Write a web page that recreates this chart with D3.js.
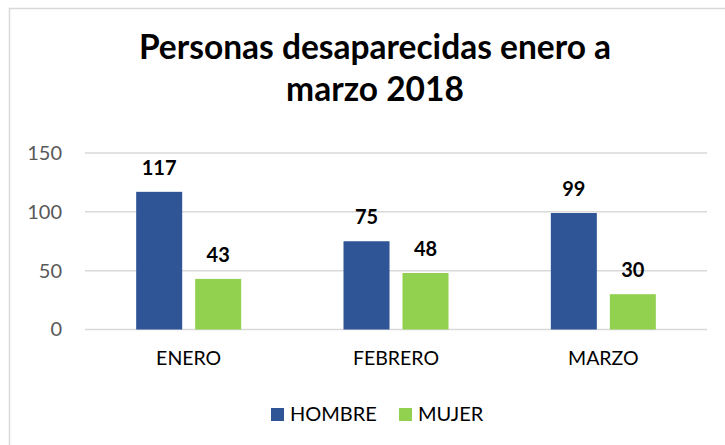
<!DOCTYPE html>
<html>
<head>
<meta charset="utf-8">
<script src="https://cdn.jsdelivr.net/npm/d3@7"></script>
<style>
  body { margin: 0; background: #fff; }
  svg { display: block; font-family: Lato, "Open Sans", sans-serif; }
</style>
</head>
<body>
<svg id="chart"></svg>
<script>
var categories = ["ENERO", "FEBRERO", "MARZO"];
var series = ["HOMBRE", "MUJER"];
var hombre = [117, 75, 99];
var mujer = [43, 48, 30];
var yTicks = [0, 50, 100, 150];
var colors = ["#2F5597", "#92D050"];

var W = 725, H = 445;
var svg = d3.select("#chart").attr("width", W).attr("height", H);

// chart border
svg.append("rect")
    .attr("x", 9.5).attr("y", 8.5)
    .attr("width", 730).attr("height", 450)
    .attr("fill", "none").attr("stroke", "#d9d9d9").attr("stroke-width", 1.5);

// title
var title = svg.append("text")
    .attr("text-anchor", "middle")
    .attr("font-weight", "bold")
    .attr("font-size", 33.5)
    .attr("fill", "#000");
title.append("tspan").attr("x", 375).attr("y", 59).text("Personas desaparecidas enero a");
title.append("tspan").attr("x", 375).attr("y", 101).text("marzo 2018");

var plotLeft = 85, plotRight = 707, plotTop = 153, plotBottom = 329.5;

var x0 = d3.scaleBand().domain(categories).range([plotLeft, plotRight]);
var x1 = d3.scaleBand().domain(series).range([0, 105]).paddingInner(0.22);
var y = d3.scaleLinear().domain([0, 150]).range([plotBottom, plotTop]);

var data = categories.map(function(c, i) {
    return { cat: c, values: [hombre[i], mujer[i]] };
});

// gridlines
svg.append("g").selectAll("line")
    .data(yTicks).enter().append("line")
    .attr("x1", plotLeft).attr("x2", plotRight)
    .attr("y1", function(d) { return y(d); })
    .attr("y2", function(d) { return y(d); })
    .attr("stroke", "#d9d9d9").attr("stroke-width", 1.5);

// y axis labels
var yAxis = svg.append("g")
    .attr("transform", "translate(" + plotLeft + ",0)")
    .call(d3.axisLeft(y).tickValues(yTicks).tickSize(0).tickPadding(23));
yAxis.select(".domain").remove();
yAxis.selectAll("text")
    .attr("font-size", 20).attr("fill", "#595959")
    .attr("font-family", "Lato, 'Open Sans', sans-serif");

// x axis labels
var xAxis = svg.append("g")
    .attr("transform", "translate(0," + plotBottom + ")")
    .call(d3.axisBottom(x0).tickSize(0).tickPadding(22));
xAxis.select(".domain").remove();
xAxis.selectAll("text")
    .attr("font-size", 19.5).attr("fill", "#000")
    .attr("font-family", "Lato, 'Open Sans', sans-serif");

// bars
var groups = svg.append("g").selectAll("g")
    .data(data).enter().append("g")
    .attr("transform", function(d) {
        return "translate(" + (x0(d.cat) + x0.bandwidth() / 2 - 52.5) + ",0)";
    });

groups.selectAll("rect")
    .data(function(d) { return d.values.map(function(v, i) { return { s: series[i], v: v, i: i }; }); })
    .enter().append("rect")
    .attr("x", function(d) { return x1(d.s); })
    .attr("y", function(d) { return y(d.v); })
    .attr("width", x1.bandwidth())
    .attr("height", function(d) { return plotBottom - y(d.v); })
    .attr("fill", function(d) { return colors[d.i]; });

groups.selectAll("text")
    .data(function(d) { return d.values.map(function(v, i) { return { s: series[i], v: v }; }); })
    .enter().append("text")
    .attr("x", function(d) { return x1(d.s) + x1.bandwidth() / 2; })
    .attr("y", function(d) { return y(d.v) - 17; })
    .attr("text-anchor", "middle")
    .attr("font-size", 20).attr("font-weight", "bold")
    .attr("fill", "#000")
    .text(function(d) { return d.v; });

// legend
var legend = svg.append("g");
var legendX = [271, 399];
series.forEach(function(s, i) {
    legend.append("rect")
        .attr("x", legendX[i]).attr("y", 408)
        .attr("width", 13).attr("height", 13)
        .attr("fill", colors[i]);
    legend.append("text")
        .attr("x", legendX[i] + 19).attr("y", 421)
        .attr("font-size", 20).attr("fill", "#000")
        .text(s);
});
</script>
</body>
</html>
